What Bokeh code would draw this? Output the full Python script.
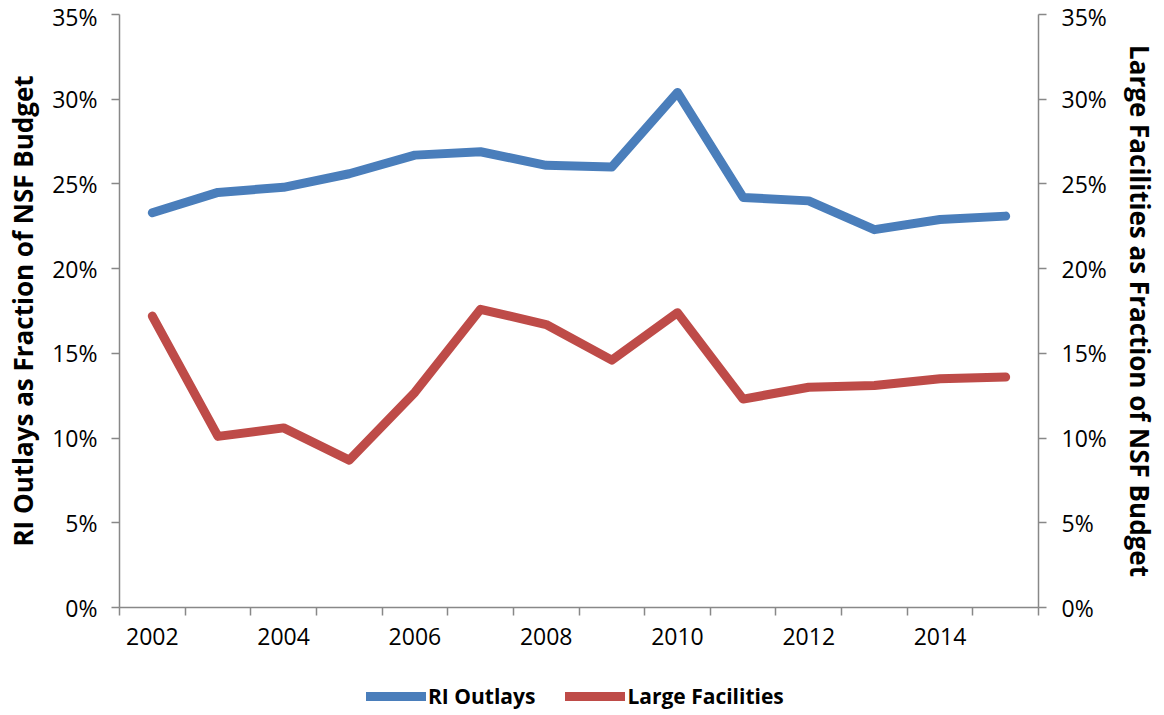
from bokeh.plotting import figure
from bokeh.layouts import column
from bokeh.models import Range1d, LinearAxis, FixedTicker, NumeralTickFormatter, Legend, LegendItem
from bokeh.embed import file_html
from bokeh.resources import INLINE

years = [2002, 2003, 2004, 2005, 2006, 2007, 2008, 2009, 2010, 2011, 2012, 2013, 2014, 2015]
ri_outlays = [0.233, 0.245, 0.248, 0.256, 0.267, 0.269, 0.261, 0.260, 0.304, 0.242, 0.240, 0.223, 0.229, 0.231]
large_facilities = [0.172, 0.101, 0.106, 0.087, 0.127, 0.176, 0.167, 0.146, 0.174, 0.123, 0.130, 0.131, 0.135, 0.136]
year_labels = [2002, 2004, 2006, 2008, 2010, 2012, 2014]
pct_ticks = [0.0, 0.05, 0.10, 0.15, 0.20, 0.25, 0.30, 0.35]
series_names = ["RI Outlays", "Large Facilities"]

FONT = "Open Sans"
AXIS_COLOR = "#888888"
BLUE = "#4A7EBB"
RED = "#BE4B48"

p = figure(width=1160, height=656, output_backend="svg", toolbar_location=None,
           x_range=Range1d(years[0] - 0.5, years[-1] + 0.5),
           y_range=Range1d(0, 0.35), y_axis_location=None, x_axis_location=None,
           min_border_left=119, min_border_right=119, min_border_top=14, min_border_bottom=49)
p.extra_y_ranges = {"right": Range1d(0, 0.35)}
p.outline_line_color = None
p.xgrid.visible = False
p.ygrid.visible = False

def style_axis(ax):
    ax.axis_line_color = AXIS_COLOR
    ax.axis_line_width = 1.5
    ax.major_tick_line_color = AXIS_COLOR
    ax.major_tick_line_width = 1.5
    ax.major_tick_in = 0
    ax.major_tick_out = 8
    ax.minor_tick_line_color = AXIS_COLOR
    ax.minor_tick_line_width = 1.5
    ax.minor_tick_in = 0
    ax.minor_tick_out = 8
    ax.major_label_text_font = FONT
    ax.major_label_text_font_size = "23px"
    ax.major_label_text_color = "#000000"
    ax.axis_label_text_font = FONT
    ax.axis_label_text_font_size = "26px"
    ax.axis_label_text_font_style = "bold"
    ax.axis_label_text_color = "#000000"

xax = LinearAxis(ticker=FixedTicker(ticks=year_labels,
                                    minor_ticks=[y - 0.5 for y in years] + [years[-1] + 0.5]))
style_axis(xax)
xax.major_tick_line_color = None
xax.major_label_standoff = 12
p.add_layout(xax, "below")

lax = LinearAxis(ticker=FixedTicker(ticks=pct_ticks), formatter=NumeralTickFormatter(format="0%"),
                 axis_label="RI Outlays as Fraction of NSF Budget")
style_axis(lax)
lax.minor_tick_line_color = None
lax.major_label_standoff = 14
lax.axis_label_standoff = 8
p.add_layout(lax, "left")

rax = LinearAxis(y_range_name="right", ticker=FixedTicker(ticks=pct_ticks),
                 formatter=NumeralTickFormatter(format="0%"),
                 axis_label="Large Facilities as Fraction of NSF Budget")
style_axis(rax)
rax.minor_tick_line_color = None
rax.major_label_standoff = 15
rax.axis_label_standoff = 12
p.add_layout(rax, "right")

p.line(years, ri_outlays, line_color=BLUE, line_width=9, line_cap="round", line_join="round")
p.line(years, large_facilities, line_color=RED, line_width=9, line_cap="round", line_join="round",
       y_range_name="right")

# legend strip below the chart (its lines lie outside the strip's ranges, only the legend shows)
pl = figure(width=1160, height=56, output_backend="svg", toolbar_location=None,
            x_range=Range1d(0, 1), y_range=Range1d(0, 1),
            min_border_left=119, min_border_right=119, min_border_top=0, min_border_bottom=0)
pl.axis.visible = False
pl.grid.visible = False
pl.outline_line_color = None
l1 = pl.line(years, ri_outlays, line_color=BLUE, line_width=9, line_cap="round")
l2 = pl.line(years, large_facilities, line_color=RED, line_width=9, line_cap="round")
legend = Legend(items=[LegendItem(label=series_names[0], renderers=[l1]),
                       LegendItem(label=series_names[1], renderers=[l2])],
                orientation="horizontal", location=(247, 2),
                label_text_font=FONT, label_text_font_size="21px", label_text_font_style="bold",
                label_text_color="#000000",
                glyph_width=60, label_standoff=2, spacing=30, border_line_color=None,
                background_fill_alpha=0, padding=2, margin=0)
pl.add_layout(legend, "center")

layout = column(p, pl, spacing=0)
open("out.html", "w").write(file_html(layout, INLINE))
